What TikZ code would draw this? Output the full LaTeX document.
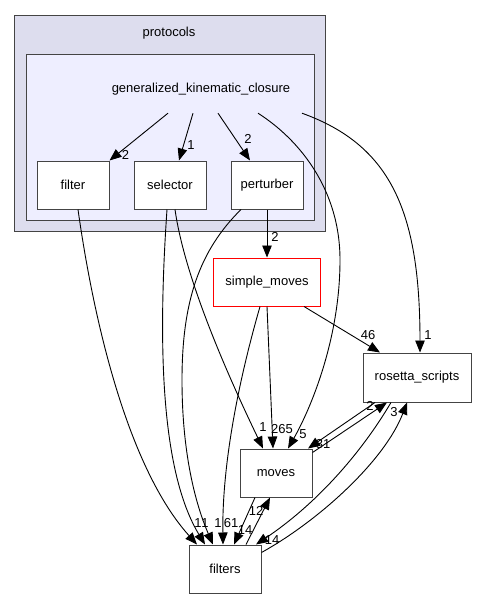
\documentclass[tikz,border=0pt]{standalone}
\usepackage{fontspec}
\setmainfont{Liberation Sans}
\usetikzlibrary{positioning,fit,arrows.meta}
\definecolor{fondoexterno}{HTML}{DDDDEE}
\definecolor{fondointerno}{HTML}{EEEEFF}
\definecolor{bordegris}{HTML}{444444}
\pgfdeclarelayer{fondo}
\pgfdeclarelayer{medio}
\pgfsetlayers{fondo,medio,main}

\begin{document}
\begin{tikzpicture}[
x=1pt, y=-1pt,
font=\fontsize{13}{15}\selectfont,
carpeta/.style={
    draw=bordegris,
    fill=white,
    line width=1pt,
    minimum width=72pt,
    minimum height=48pt,
    inner sep=3pt
},
carpetaroja/.style={
    carpeta,
    draw=red
},
texto/.style={
    inner sep=0pt
},
grupo/.style={
    draw=bordegris,
    line width=1pt,
    inner sep=10.5pt
},
flecha/.style={
    -{Triangle[length=12pt,width=9.5pt]},
    line width=0.9pt
},
cifra/.style={
    inner sep=0pt
}
]
\useasboundingbox (0,0) rectangle (476,599);

% Carpetas de generalized_kinematic_closure
\node[carpeta] (filter) at (73,185) {filter};

\node[carpeta, right=24pt of filter] (selector) {selector};

\node[carpeta, right=24pt of selector] (perturber) {perturber};

\node[texto, minimum height=48pt] (gkc) at (201,89) {generalized\_kinematic\_closure};

\node[texto] (protocolslbl) at (169,33) {protocols};

% Carpetas externas
\node[carpetaroja, below=48pt of perturber, minimum width=107pt] (simplemoves) {simple\_moves};

\node[carpeta, minimum width=108pt, minimum height=49pt] (rosetta) at (417,377.5) {rosetta\_scripts};

\node[carpeta] (moves) at (276,473) {moves};

\node[carpeta] (filters) at (225,569) {filters};

% Grupos de fondo
\begin{pgfonlayer}{medio}
\node[grupo, fill=fondointerno, fit=(gkc)(filter)(perturber)] (gkcgrupo) {};
\end{pgfonlayer}
\begin{pgfonlayer}{fondo}
\node[grupo, fill=fondoexterno, inner sep=11pt, fit=(gkcgrupo)(protocolslbl)] (protocolsgrupo) {};
\end{pgfonlayer}

% Desde generalized_kinematic_closure
\draw[flecha]
([xshift=-33pt]gkc.south) -- (filter.north east)
node[cifra, xshift=16pt, yshift=6pt] {2};

\draw[flecha]
([xshift=-8pt]gkc.south) -- ([xshift=9pt]selector.north)
node[cifra, xshift=12pt, yshift=15pt] {1};

\draw[flecha]
([xshift=17pt]gkc.south) -- ([xshift=-17pt]perturber.north)
node[cifra, xshift=-2pt, yshift=22pt] {2};

\draw[flecha]
([xshift=57pt]gkc.south) .. controls (300,140) and (340,190) .. (340,260)
.. controls (340,340) and (310,410) .. ([xshift=12pt]moves.north)
node[cifra, xshift=15pt, yshift=14pt] {5};

\draw[flecha]
([xshift=101pt]gkc.south) .. controls (390,145) and (420,210) .. ([xshift=3pt]rosetta.north)
node[cifra, xshift=8pt, yshift=17pt] {1};

% Desde perturber
\draw[flecha]
(perturber.south) -- (simplemoves.north)
node[cifra, xshift=8pt, yshift=21pt] {2};

\draw[flecha]
([xshift=-26pt]perturber.south) .. controls (200,250) and (182,300) .. (182,380)
.. controls (182,460) and (198,510) .. ([xshift=-12pt]filters.north)
node[cifra, xshift=5pt, yshift=21pt] {1};

% Desde filter y selector
\draw[flecha]
([xshift=5pt]filter.south) .. controls (95,330) and (130,470) .. ([xshift=-28pt]filters.north)
node[cifra, xshift=1pt, yshift=21pt] {1};

\draw[flecha]
([xshift=-3pt]selector.south) .. controls (158,340) and (160,470) .. ([xshift=-20pt]filters.north)
node[cifra, xshift=0pt, yshift=21pt] {1};

\draw[flecha]
([xshift=5pt]selector.south) .. controls (185,280) and (230,380) .. ([xshift=-13pt]moves.north)
node[cifra, xshift=0pt, yshift=21pt] {1};

% Desde simple_moves
\draw[flecha]
([xshift=37pt]simplemoves.south) -- ([xshift=-37pt]rosetta.north)
node[cifra, xshift=-12pt, yshift=17pt] {46};

\draw[flecha]
(simplemoves.south) -- ([xshift=-3pt]moves.north)
node[cifra, xshift=9pt, yshift=19pt] {265};

\draw[flecha]
([xshift=-7pt]simplemoves.south) .. controls (236,390) and (222,470) .. ([xshift=-2pt]filters.north)
node[cifra, xshift=8pt, yshift=21pt] {61};

% Entre moves, rosetta_scripts y filters
\draw[flecha]
([xshift=-42pt]rosetta.south) -- ([xshift=32pt]moves.north)
node[cifra, xshift=15pt, yshift=4pt] {31};

\draw[flecha]
([yshift=-4pt]moves.north east) -- ([xshift=-30pt]rosetta.south)
node[cifra, xshift=-17pt, yshift=-3pt] {2};

\draw[flecha]
([xshift=-26pt]rosetta.south) .. controls (360,455) and (315,505) .. ([xshift=31pt]filters.north)
node[cifra, xshift=16pt, yshift=4pt] {14};

\draw[flecha]
([yshift=-8pt]filters.north east) .. controls (320,520) and (385,460) .. ([xshift=-10pt]rosetta.south)
node[cifra, xshift=-13pt, yshift=-10pt] {3};

\draw[flecha]
([xshift=-21pt]moves.south) -- ([xshift=9pt]filters.north)
node[cifra, xshift=11pt, yshift=14pt] {14};

\draw[flecha]
([xshift=21pt]filters.north) -- ([xshift=-6pt]moves.south)
node[cifra, xshift=-14pt, yshift=-13pt] {12};

\end{tikzpicture}
\end{document}
